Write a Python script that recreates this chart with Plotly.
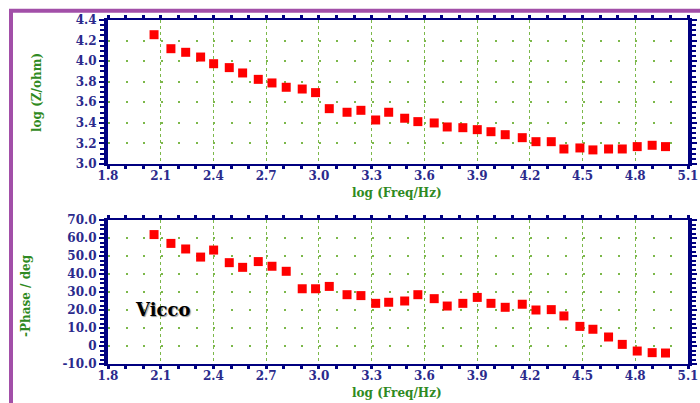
import plotly.graph_objects as go

# ---- data ----
log_freq = [2.062, 2.158, 2.242, 2.327, 2.401, 2.490, 2.566, 2.655, 2.733, 2.814,
            2.905, 2.981, 3.059, 3.160, 3.239, 3.323, 3.397, 3.488, 3.563, 3.656,
            3.730, 3.819, 3.901, 3.979, 4.060, 4.157, 4.235, 4.322, 4.394, 4.485,
            4.559, 4.648, 4.726, 4.811, 4.896, 4.972]
log_z = [4.257, 4.121, 4.086, 4.040, 3.975, 3.937, 3.885, 3.823, 3.788, 3.746,
         3.729, 3.694, 3.538, 3.503, 3.522, 3.428, 3.503, 3.445, 3.412, 3.399,
         3.360, 3.353, 3.334, 3.314, 3.285, 3.256, 3.217, 3.217, 3.146, 3.156,
         3.137, 3.146, 3.146, 3.169, 3.182, 3.169]
neg_phase = [61.9, 57.0, 53.9, 49.4, 53.3, 46.3, 43.7, 46.9, 44.3, 41.5,
             31.8, 31.8, 33.1, 28.5, 28.0, 23.7, 24.3, 25.0, 28.5, 26.3,
             22.2, 23.7, 27.0, 23.7, 21.5, 23.2, 20.0, 20.2, 16.7, 10.9,
             9.3, 5.0, 0.9, -2.8, -3.7, -3.9]

x_ticks = [1.8, 2.1, 2.4, 2.7, 3.0, 3.3, 3.6, 3.9, 4.2, 4.5, 4.8, 5.1]
z_ticks = [3.0, 3.2, 3.4, 3.6, 3.8, 4.0, 4.2, 4.4]
phase_ticks = [-10, 0, 10, 20, 30, 40, 50, 60, 70]
phase_labels = ["-10.0", "0", "10.0", "20.0", "30.0", "40.0", "50.0", "60.0", "70.0"]

W, H = 700, 403
NAVY = "#000080"
LABEL = "#2a2a8c"
GREEN = "#2f8a22"
GRID = "#7cb84a"
PURPLE = "#a24fa8"
FONT = "DejaVu Serif"

x0, x1 = 108, 688
plot_w = x1 - x0
period = plot_w / 33.0  # one 0.1 step in pixels
hdash = f"2px,{period - 2:.3f}px"

fig = go.Figure()
fig.add_trace(go.Scatter(x=log_freq, y=log_z, mode="markers", xaxis="x", yaxis="y",
                         marker=dict(symbol="square", size=9, color="#ff0000"),
                         showlegend=False))
fig.add_trace(go.Scatter(x=log_freq, y=neg_phase, mode="markers", xaxis="x2", yaxis="y2",
                         marker=dict(symbol="square", size=9, color="#ff0000"),
                         showlegend=False))

tickfont = dict(family=FONT, size=12, color=LABEL, weight="bold")


def xaxis_cfg(anchor):
    return dict(anchor=anchor, domain=[x0 / W, x1 / W], range=[1.8, 5.1],
                automargin=False, ticklabelstandoff=-3,
                tickvals=x_ticks, ticktext=[f"{v:.1f}" for v in x_ticks],
                showline=True, linecolor=NAVY, linewidth=2, mirror="allticks",
                ticks="outside", ticklen=3, tickwidth=3, tickcolor=NAVY,
                tickfont=tickfont, showgrid=True, gridcolor=GRID, gridwidth=1,
                griddash="dot", zeroline=False,
                minor=dict(dtick=0.1, tick0=1.8, ticks="outside", ticklen=3,
                           tickwidth=3, tickcolor=NAVY, showgrid=False))


def yaxis_cfg(anchor, dom, rng, vals, texts, minor_dt):
    return dict(anchor=anchor, domain=dom, range=rng, tickvals=vals, ticktext=texts,
                automargin=False,
                showline=True, linecolor=NAVY, linewidth=4, mirror="allticks",
                ticks="outside", ticklen=5, tickwidth=2, tickcolor=NAVY,
                tickfont=tickfont, showgrid=True, gridcolor=GRID, gridwidth=2,
                griddash=hdash, zeroline=False,
                minor=dict(dtick=minor_dt, tick0=rng[0], ticks="outside", ticklen=4,
                           tickwidth=1.5, tickcolor=NAVY, showgrid=False))


top_dom = [1 - 164 / H, 1 - 20 / H]
bot_dom = [1 - 364 / H, 1 - 220 / H]

fig.update_layout(
    width=W, height=H, autosize=False,
    margin=dict(l=0, r=0, t=0, b=0, autoexpand=False),
    paper_bgcolor="white", plot_bgcolor="white",
    xaxis=xaxis_cfg("y"),
    yaxis=yaxis_cfg("x", top_dom, [3.0, 4.4], z_ticks, [f"{v:.1f}" for v in z_ticks], 0.05),
    xaxis2=xaxis_cfg("y2"),
    yaxis2=yaxis_cfg("x2", bot_dom, [-10, 70], phase_ticks, phase_labels, 2.5),
)

title_font = dict(family=FONT, size=12, color=GREEN, weight="bold")
ann = [
    dict(text="log (Freq/Hz)", x=397 / W, y=1 - 192.5 / H),
    dict(text="log (Freq/Hz)", x=397 / W, y=1 - 392.5 / H),
    dict(text="log (Z/ohm)", x=37 / W, y=1 - 93 / H, textangle=-90),
    dict(text="-Phase / deg", x=26 / W, y=1 - 296 / H, textangle=-90),
]
for a in ann:
    fig.add_annotation(xref="paper", yref="paper", showarrow=False,
                       xanchor="center", yanchor="middle", font=title_font, **a)

fig.add_annotation(xref="paper", yref="paper", x=162 / W, y=1 - 309 / H,
                   text="Vicco", showarrow=False, xanchor="center", yanchor="middle",
                   font=dict(family=FONT, size=18, color="black", weight="bold",
                             shadow="1px 1px 1px #999"))

# purple frame
fig.add_shape(type="line", xref="paper", yref="paper", x0=9 / W, x1=1, y0=1 - 10.7 / H,
              y1=1 - 10.7 / H, line=dict(color=PURPLE, width=4))
fig.add_shape(type="line", xref="paper", yref="paper", x0=11 / W, x1=11 / W,
              y0=0, y1=1 - 9 / H, line=dict(color=PURPLE, width=4))

fig.write_html("out.html")
